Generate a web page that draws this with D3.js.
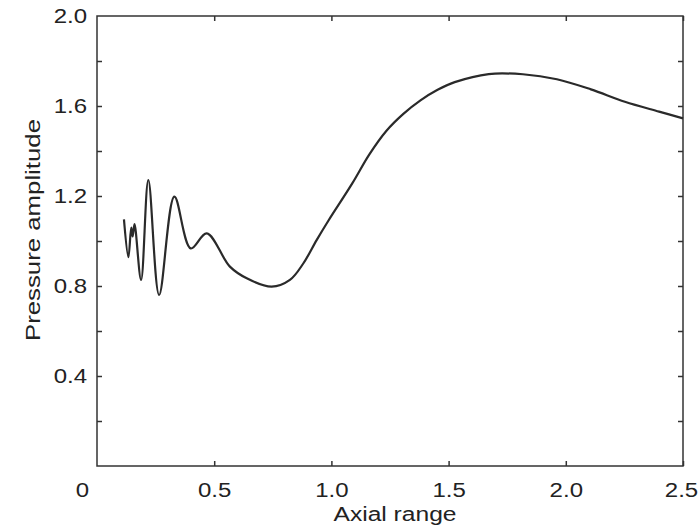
<!DOCTYPE html>
<meta charset="utf-8">
<style>
body { margin: 0; background: #fff; }
.tick text, .lbl { font-family: "Liberation Sans", Arial, sans-serif; fill: #222; }
.curve { fill: none; stroke: #2a2a2a; stroke-width: 2.2px; }
</style>
<body>
<script src="https://d3js.org/d3.v7.min.js"></script>
<script>

// curve
var axial = [0.115, 0.134, 0.146, 0.152, 0.160, 0.188, 0.219, 0.265, 0.33, 0.40, 0.468,
             0.567, 0.639, 0.745, 0.823, 0.88, 0.937, 0.987, 1.089, 1.162, 1.235, 1.307,
             1.38, 1.453, 1.526, 1.671, 1.817, 1.962, 2.107, 2.252, 2.398, 2.5];
var amplitude = [1.096, 0.928, 1.06, 1.02, 1.075, 0.827, 1.271, 0.76, 1.197, 0.967, 1.034,
                 0.886, 0.834, 0.797, 0.827, 0.90, 1.004, 1.09, 1.256, 1.385, 1.49, 1.565,
                 1.625, 1.672, 1.706, 1.742, 1.741, 1.719, 1.674, 1.619, 1.575, 1.545];

var xTicks = [0.5, 1.0, 1.5, 2.0, 2.5];
var yMinor = [0.2, 0.4, 0.6, 0.8, 1.0, 1.2, 1.4, 1.6, 1.8];
var yLabels = [0.4, 0.8, 1.2, 1.6, 2.0];

var W = 698, H = 531;
var m = {left: 97, right: 683, top: 16, bottom: 466};
var stretch = 1.2;   // the scanned lettering is wider than Liberation Sans

var svg = d3.select("body").append("svg")
    .attr("width", W)
    .attr("height", H);

var x = d3.scaleLinear().domain([0, 2.5]).range([m.left, m.right]);
var y = d3.scaleLinear().domain([0, 2]).range([m.bottom, m.top]);

// frame
svg.append("rect")
    .attr("x", m.left).attr("y", m.top)
    .attr("width", m.right - m.left).attr("height", m.bottom - m.top)
    .attr("fill", "none").attr("stroke", "#333").attr("stroke-width", 1.5);

// inward ticks on all four sides
function ticksOnly(g) {
  g.select(".domain").remove();
  g.selectAll(".tick line").attr("stroke", "#333").attr("stroke-width", 1.5);
}

svg.append("g")
    .attr("transform", "translate(0," + m.bottom + ")")
    .call(d3.axisBottom(x).tickValues(xTicks).tickSize(-5).tickFormat(""))
    .call(ticksOnly);
svg.append("g")
    .attr("transform", "translate(0," + m.top + ")")
    .call(d3.axisTop(x).tickValues(xTicks).tickSize(-5).tickFormat(""))
    .call(ticksOnly);
svg.append("g")
    .attr("transform", "translate(" + m.left + ",0)")
    .call(d3.axisLeft(y).tickValues(yMinor).tickSize(-5).tickFormat(""))
    .call(ticksOnly);
svg.append("g")
    .attr("transform", "translate(" + m.right + ",0)")
    .call(d3.axisRight(y).tickValues(yMinor).tickSize(-5).tickFormat(""))
    .call(ticksOnly);

function widen(sel) {
  sel.each(function() {
    var w = this.getComputedTextLength();
    d3.select(this).attr("textLength", w * stretch).attr("lengthAdjust", "spacingAndGlyphs");
  });
}

// tick labels
var xl = svg.append("g")
    .attr("transform", "translate(0," + m.bottom + ")")
    .call(d3.axisBottom(x).tickValues([0].concat(xTicks)).tickSize(0).tickPadding(17)
      .tickFormat(function(d) { return d === 0 ? "0" : d3.format(".1f")(d); }));
xl.select(".domain").remove();
xl.selectAll(".tick text").attr("font-size", "20px")
    .attr("dx", function(d) { return d === 0 ? "-15px" : (d === 2.5 ? "-2px" : 0); })
    .call(widen);

var yl = svg.append("g")
    .attr("transform", "translate(" + m.left + ",0)")
    .call(d3.axisLeft(y).tickValues(yLabels).tickSize(0).tickPadding(10).tickFormat(d3.format(".1f")));
yl.select(".domain").remove();
yl.selectAll(".tick text").attr("font-size", "20px").call(widen);

// axis titles
svg.append("text").attr("class", "lbl")
    .attr("x", 395)
    .attr("y", 521)
    .attr("text-anchor", "middle")
    .attr("font-size", "20px")
    .attr("textLength", 123)
    .attr("lengthAdjust", "spacingAndGlyphs")
    .text("Axial range");

svg.append("text").attr("class", "lbl")
    .attr("transform", "translate(40," + 230 + ") rotate(-90)")
    .attr("text-anchor", "middle")
    .attr("font-size", "20px")
    .attr("textLength", 222)
    .attr("lengthAdjust", "spacingAndGlyphs")
    .text("Pressure amplitude");

// the curve
var pts = axial.map(function(d, i) { return [d, amplitude[i]]; });
var line = d3.line()
    .x(function(d) { return x(d[0]); })
    .y(function(d) { return y(d[1]); })
    .curve(d3.curveCatmullRom.alpha(0.5));

svg.append("path")
    .datum(pts)
    .attr("class", "curve")
    .attr("d", line);

</script>
</body>
